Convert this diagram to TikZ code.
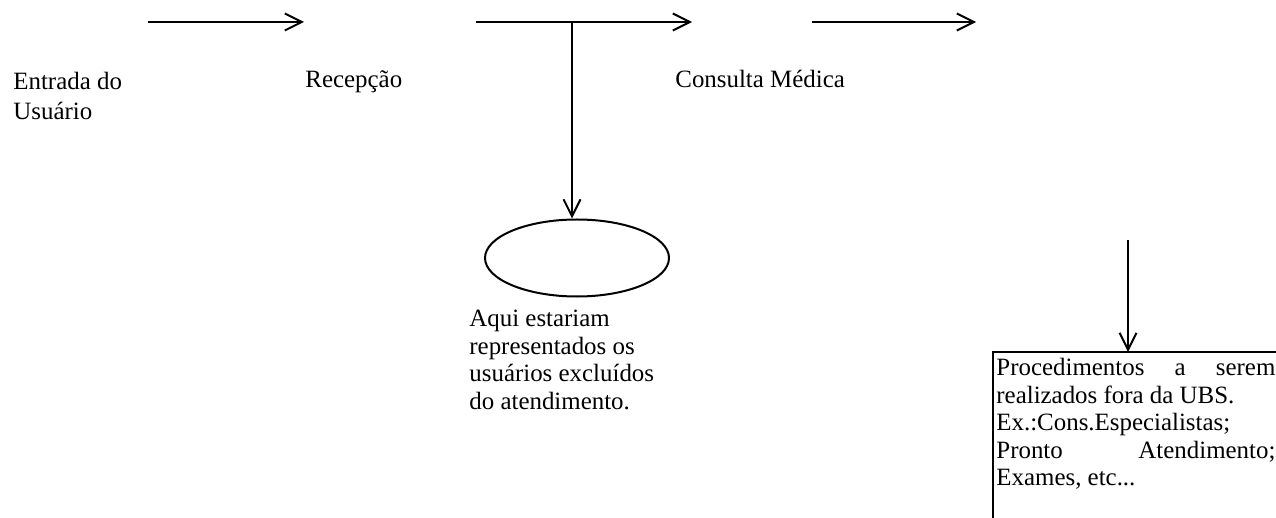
\documentclass[tikz,border=0pt]{standalone}
\usepackage{fontspec}
\setmainfont{Liberation Serif}
\usetikzlibrary{arrows.meta,shapes.geometric}
\tikzset{
	flecha/.style={line width=1bp,-{Straight Barb[length=8.5bp,width=8.5bp,line width=1bp]}},
	rotulo/.style={inner sep=0pt,align=left,font=\fontsize{12.5}{13.8}\selectfont},
	caixa/.style={anchor=north west,inner xsep=1.5bp,inner ysep=3bp,text width=139.5bp,align=justify,font=\fontsize{12.5}{13.8}\selectfont},
}
\begin{document}
\begin{tikzpicture}[x=0.5bp,y=-0.5bp]
	\useasboundingbox (0,0) rectangle (1276,518);
	\clip (0,0) rectangle (1276,518);
	
	%arrows on top
	\foreach \ini/\fim [count=\i] in {148/304,476/692,812/976}{
		\coordinate (s\i) at (\ini,22);
		\coordinate (e\i) at (\fim,22);
		\draw[flecha] (s\i) -- (e\i);
	}
	
	%labels
	\node[rotulo,anchor=north west,font=\fontsize{12.5}{15}\selectfont] (entrada) at (13,71.9) {Entrada do\\Usuário};
	\node[rotulo,anchor=base west] (recepcao) at (305,88) {Recepção};
	\node[rotulo,anchor=base west] (consulta) at (675,88) {Consulta Médica};
	
	%excluded users
	\node[draw,ellipse,line width=1bp,minimum width=92bp,minimum height=38.5bp,inner sep=0pt] (excluidos) at (577,258) {};
	\coordinate (ramo) at (572,22);
	\draw[flecha] (ramo) -- (ramo |- excluidos.north);
	\node[rotulo,anchor=north west] (aqui) at (469,309.9) {Aqui estariam\\representados os\\usuários excluídos\\do atendimento.};
	
	%outside the UBS
	\node[caixa] (fora) at (993,352) {Procedimentos a serem\linebreak realizados fora da UBS.\newline Ex.:Cons.Especialistas;\newline Pronto Atendimento;\linebreak Exames, etc...};
	\draw[line width=1bp] (fora.south west) ++(0,60) -- (fora.north west) -- ++(320,0);
	\coordinate (desce) at (1128,240);
	\draw[flecha] (desce) -- (desce |- fora.north);
\end{tikzpicture}
\end{document}
